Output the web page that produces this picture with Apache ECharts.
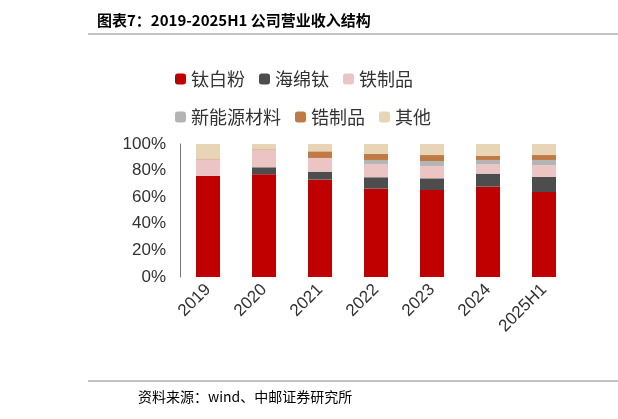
<!DOCTYPE html>
<html><head><meta charset="utf-8">
<script src="https://cdn.jsdelivr.net/npm/echarts@6/dist/echarts.min.js"></script>
<style>body{margin:0;background:#fff}#c{width:618px;height:419px}</style>
</head><body><div id="c"></div>
<script>
var years = ["2019","2020","2021","2022","2023","2024","2025H1"];
var names = ["钛白粉","海绵钛","铁制品","新能源材料","锆制品","其他"];
var colors = ["#C00000","#4D4D4D","#EBC4C4","#B4B4B4","#C07A46","#E8D5B5"];
var tio2 = [76, 77.2, 73.2, 66.4, 65.4, 67.9, 63.9];
var ti = [0, 5.3, 6, 8.6, 8.8, 9.8, 11.3];
var iron = [12.5, 13.5, 10.3, 10, 9.3, 7, 8.8];
var newMat = [0, 0, 0, 3, 3.7, 3.3, 4];
var zr = [0.5, 0.5, 5, 4.5, 4.5, 3.2, 3.7];
var other = [11, 3.5, 5.5, 7.5, 8.3, 8.8, 8.3];
var vals = [tio2, ti, iron, newMat, zr, other];

var chart = echarts.init(document.getElementById('c'));
chart.setOption({
    animation: false,
    title: {
        text: "图表7：2019-2025H1 公司营业收入结构", left: 92, top: 8,
        textStyle: {fontSize: 15, fontWeight: "bold", color: "#000", fontFamily: "Noto Sans CJK SC"}
    },
    graphic: [
        {type: "line", shape: {x1: 88, y1: 34, x2: 618, y2: 34}, style: {stroke: "#888", lineWidth: 1}},
        {type: "line", shape: {x1: 88, y1: 381, x2: 618, y2: 381}, style: {stroke: "#888", lineWidth: 1}},
        {type: "text", left: 138, top: 390, style: {text: "资料来源：wind、中邮证券研究所", font: "14px 'Noto Sans CJK SC'", fill: "#000"}}
    ],
    legend: {
        left: 170, top: 62, width: 310, itemGap: 14, itemWidth: 11, itemHeight: 11,
        textStyle: {fontSize: 18, color: "#333", fontFamily: "Noto Sans CJK SC", lineHeight: 24},
        data: names
    },
    grid: {left: 180, right: 46, top: 144, bottom: 142},
    xAxis: {
        type: "category", data: years,
        axisLine: {show: false}, axisTick: {show: false},
        axisLabel: {rotate: 45, fontSize: 17, color: "#333", margin: 10, fontFamily: "Liberation Sans"}
    },
    yAxis: {
        type: "value", min: 0, max: 100, interval: 20,
        splitLine: {show: false},
        axisLine: {show: true, lineStyle: {color: "#777"}},
        axisLabel: {formatter: "{value}%", fontSize: 17, color: "#333", margin: 14, fontFamily: "Liberation Sans"}
    },
    series: names.map(function(n, i){
        return {name: n, type: "bar", stack: "s", data: vals[i], barWidth: 24,
            itemStyle: {color: colors[i]}};
    })
});
</script>
</body></html>
